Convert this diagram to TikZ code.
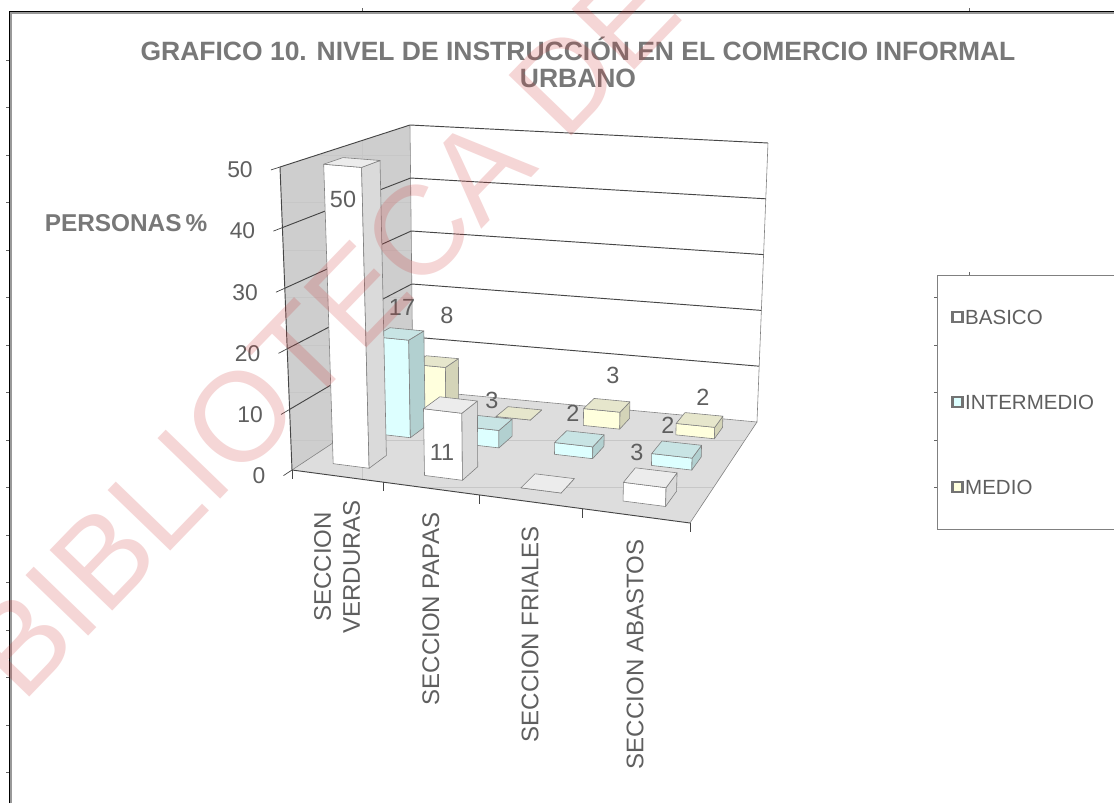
\documentclass[tikz,border=0pt]{standalone}
\usepackage{fontspec}
\setmainfont{Liberation Sans}
\usetikzlibrary{calc}

\definecolor{txtgray}{RGB}{95,95,95}
\definecolor{ttlgray}{RGB}{120,120,120}
\definecolor{wallgray}{RGB}{206,206,206}
\definecolor{floorgray}{RGB}{221,221,221}
\definecolor{edgegray}{RGB}{128,128,128}
\definecolor{gridgray}{RGB}{70,70,70}
\definecolor{basF}{RGB}{255,255,255}
\definecolor{basS}{RGB}{218,218,218}
\definecolor{basT}{RGB}{236,236,236}
\definecolor{intF}{RGB}{221,255,255}
\definecolor{intS}{RGB}{178,208,208}
\definecolor{intT}{RGB}{200,228,228}
\definecolor{medF}{RGB}{255,255,221}
\definecolor{medS}{RGB}{212,212,184}
\definecolor{medT}{RGB}{230,230,204}
\definecolor{wmred}{RGB}{205,50,50}

\tikzset{
  gridline/.style={gridgray, line width=0.8pt},
  wallside/.style={edgegray, line width=0.5pt},
  barface/.style={draw=edgegray, line width=0.5pt, line join=round},
  sheetline/.style={black!22, line width=0.5pt},
  axlbl/.style={txtgray, font=\fontsize{19.5}{20}\selectfont, inner sep=0pt},
  datlbl/.style={txtgray, font=\fontsize{20}{20}\selectfont, inner sep=0pt},
  catlbl/.style={txtgray, font=\fontsize{20.5}{24.7}\selectfont, rotate=90, anchor=east, align=center, inner sep=0pt},
  ttl/.style={ttlgray, font=\fontsize{22.6}{27}\selectfont\bfseries, inner sep=0pt},
  legtxt/.style={txtgray, font=\fontsize{17.5}{18}\selectfont, anchor=west, inner sep=0pt},
  legmark/.style={draw=black!55, line width=1.8pt, minimum size=8.6pt, inner sep=0pt},
  wmark/.style={text=wmred, text opacity=0.2, font=\fontsize{108}{108}\selectfont, inner sep=0pt}
}

% point of the chart box: #2 category axis, #3 depth, #4 height (0..1)
\newcommand{\chartpt}[4]{%
  \pgfmathsetmacro\cpu{(#2)*0.894/(1-0.106*(#2))}%
  \pgfmathsetmacro\cpv{1.25*(#3)/(1+0.25*(#3))}%
  \pgfmathsetmacro\cpa{(1-\cpu)*(1-\cpv)}%
  \pgfmathsetmacro\cpb{\cpu*(1-\cpv)}%
  \pgfmathsetmacro\cpc{(1-\cpu)*\cpv}%
  \pgfmathsetmacro\cpd{\cpu*\cpv}%
  \pgfmathsetmacro\cpx{\cpa*292+\cpb*690+\cpc*413+\cpd*757+(#4)*(\cpa*(-12)+\cpb*10+\cpc*(-3)+\cpd*11)}%
  \pgfmathsetmacro\cpy{\cpa*470+\cpb*523+\cpc*390+\cpd*422+(#4)*(\cpa*(-303)+\cpb*(-319)+\cpc*(-265)+\cpd*(-279))}%
  \coordinate (#1) at (\cpx,\cpy)}

% one column: category, row, value, colour prefix
\newcommand{\colbar}[4]{%
  \pgfmathsetmacro\cbua{(#1+0.3)/4}%
  \pgfmathsetmacro\cbub{(#1+0.7)/4}%
  \pgfmathsetmacro\cbva{(#2+0.3)/3}%
  \pgfmathsetmacro\cbvb{(#2+0.7)/3}%
  \pgfmathsetmacro\cbt{(#3)/50}%
  \chartpt{q1}{\cbua}{\cbva}{0};
  \chartpt{q2}{\cbub}{\cbva}{0};
  \chartpt{q3}{\cbub}{\cbva}{\cbt};
  \chartpt{q4}{\cbua}{\cbva}{\cbt};
  \chartpt{q5}{\cbub}{\cbvb}{0};
  \chartpt{q6}{\cbub}{\cbvb}{\cbt};
  \chartpt{q7}{\cbua}{\cbvb}{\cbt};
  \draw[barface, fill=#4F] (q1) -- (q2) -- (q3) -- (q4) -- cycle;
  \draw[barface, fill=#4S] (q2) -- (q5) -- (q6) -- (q3) -- cycle;
  \draw[barface, fill=#4T] (q4) -- (q3) -- (q6) -- (q7) -- cycle;}

\begin{document}
\begin{tikzpicture}[x=0.03cm, y=-0.03cm]
    \useasboundingbox (0,0) rectangle (1114,803);
    \fill[white] (0,0) rectangle (1114,803);
    % sheet frame
    \draw[black, line width=0.8pt] (9,803) -- (9,11) -- (1114,11);
    \draw[black!40, line width=1.6pt] (10.9,803) -- (10.9,12.9) -- (1114,12.9);
    \foreach \r in {0,...,15} \draw[black!60, line width=0.4pt] (6,60+47.5*\r) -- (9,60+47.5*\r);
    \foreach \cx in {362,969} \draw[black!60, line width=0.4pt] (\cx,8) -- (\cx,11);

    % walls and floor
    \chartpt{f00}{0}{0}{0};
    \chartpt{f10}{1}{0}{0};
    \chartpt{f01}{0}{1}{0};
    \chartpt{f11}{1}{1}{0};
    \chartpt{t00}{0}{0}{1};
    \chartpt{t01}{0}{1}{1};
    \chartpt{t11}{1}{1}{1};
    \fill[wallgray] (f00) -- (f01) -- (t01) -- (t00) -- cycle;
    \fill[floorgray] (f00) -- (f10) -- (f11) -- (f01) -- cycle;
    \fill[white] (f01) -- (f11) -- (t11) -- (t01) -- cycle;
    \begin{scope}
      \clip (t00) -- (t01) -- (f01) -- (f11) -- (f10) -- (f00) -- cycle;
      \foreach \r in {0,...,15} \draw[sheetline] (0,60+47.5*\r) -- (1114,60+47.5*\r);
      \draw[sheetline] (362,0) -- (362,803);
    \end{scope}
    \draw[wallside] (f00) -- (f01) -- (t01);
    \draw[wallside] (f01) -- (f11) -- (t11);
    \draw[wallside] (f11) -- (f10);
    \draw[gridline] (t00) -- (f00) -- (f10);

    \foreach \val in {10,20,30,40,50} {
      \chartpt{ga}{0}{0}{\val/50};
      \chartpt{gb}{0}{1}{\val/50};
      \chartpt{gc}{1}{1}{\val/50};
      \draw[gridline] (ga) -- (gb) -- (gc);
    }
    \foreach \val in {0,10,...,50} {
      \chartpt{ta}{0}{0}{\val/50};
      \chartpt{tb}{0}{1}{\val/50};
      \draw[gridgray, line width=0.6pt] (ta) -- ($(ta)!-0.07!(tb)$) coordinate (te);
      \node[axlbl, anchor=east] (v\val) at ($(te)+(-18,0)$) {\val};
    }
    \foreach \c in {0,...,4} {
      \chartpt{ct}{\c/4}{0}{0};
      \draw[gridgray, line width=0.6pt] (ct) -- ++(0,9);
    }

    % columns, back row first
    \colbar{0}{2}{8}{med}
    \colbar{1}{2}{0}{med}
    \colbar{2}{2}{3}{med}
    \colbar{3}{2}{2}{med}
    \colbar{0}{1}{17}{int}
    \colbar{1}{1}{3}{int}
    \colbar{2}{1}{2}{int}
    \colbar{3}{1}{2}{int}
    \colbar{0}{0}{50}{bas}
    \colbar{1}{0}{11}{bas}
    \colbar{2}{0}{0}{bas}
    \colbar{3}{0}{3}{bas}

    \node[datlbl] (d50) at (343,199) {50};
    \node[datlbl] (d17) at (402,307) {17};
    \node[datlbl] (d8) at (447,315) {8};
    \node[datlbl] (d11) at (442,452) {11};
    \node[datlbl] (dpi) at (492,400) {3};
    \node[datlbl] (dfi) at (573,413) {2};
    \node[datlbl] (dfm) at (613,375) {3};
    \node[datlbl] (dab) at (637,452) {3};
    \node[datlbl] (dai) at (668,425) {2};
    \node[datlbl] (dam) at (703,397) {2};

    % category labels
    \chartpt{cl1}{0.125}{0}{0};
    \chartpt{cl2}{0.375}{0}{0};
    \chartpt{cl3}{0.625}{0}{0};
    \chartpt{cl4}{0.875}{0}{0};
    \node[catlbl] (cat1) at ($(cl1)+(0,24)$) {SECCION\\VERDURAS};
    \node[catlbl] (cat2) at ($(cl2)+(0,24)$) {SECCION PAPAS};
    \node[catlbl] (cat3) at ($(cl3)+(0,24)$) {SECCION FRIALES};
    \node[catlbl] (cat4) at ($(cl4)+(0,24)$) {SECCION ABASTOS};

    \node[ttl, anchor=base] (title1) at (578,60) {GRAFICO 10. NIVEL DE INSTRUCCIÓN EN EL COMERCIO INFORMAL};
    \node[ttl, anchor=base] (title2) at (578,87) {URBANO};
    \node[ttl, anchor=base, font=\fontsize{20.8}{22}\selectfont\bfseries] (ytitle) at (126,231) {PERSONAS\,\%};

    % legend
    \draw[edgegray, line width=0.6pt] (1114,275) -- (937,275) -- (937,529) -- (1114,529);
    \foreach \ly in {297.5,345,392.5,440,487.5} \draw[black!60, line width=0.4pt] (934,\ly) -- (937,\ly);
    \draw[black!60, line width=0.4pt] (969,272) -- (969,275);
    \node[legmark, fill=basF] (mk1) at (957.5,317) {};
    \node[legmark, fill=intF] (mk2) at (957.5,402) {};
    \node[legmark, fill=medF] (mk3) at (957.5,487) {};
    \node[legtxt] (lg1) at (965,317) {BASICO};
    \node[legtxt] (lg2) at (965,402) {INTERMEDIO};
    \node[legtxt] (lg3) at (965,487) {MEDIO};

    \node[wmark, rotate=46, anchor=base west] (wm) at (22,705) {BIBLIOTECA DE E};
\end{tikzpicture}
\end{document}
